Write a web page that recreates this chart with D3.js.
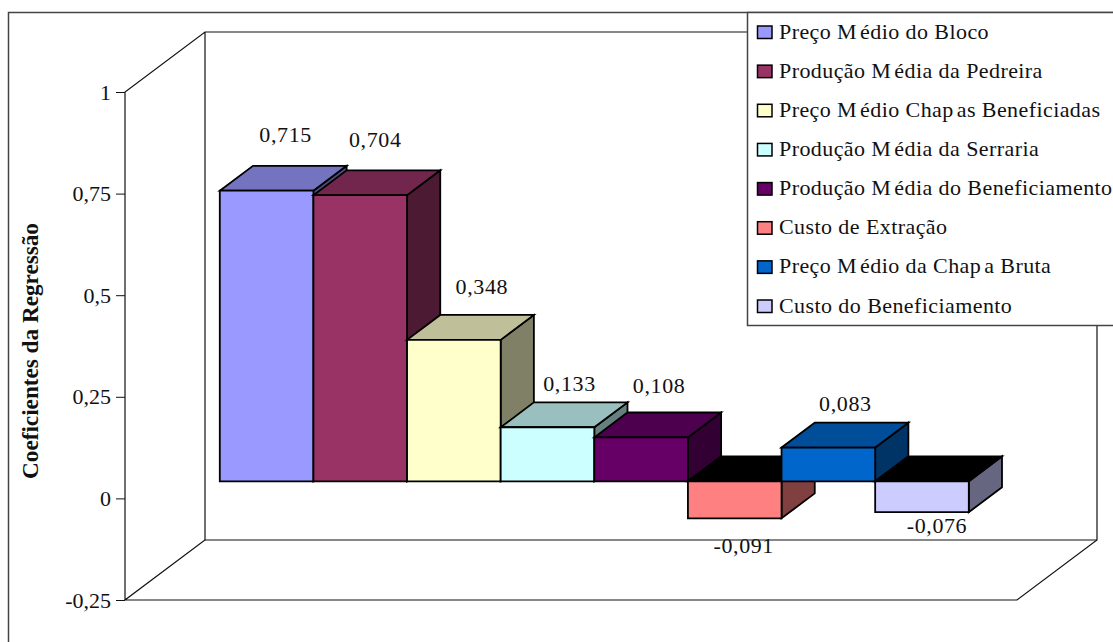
<!DOCTYPE html>
<html>
<head>
<meta charset="utf-8">
<script src="https://cdnjs.cloudflare.com/ajax/libs/d3/7.8.5/d3.min.js"></script>
<style>
html,body{margin:0;padding:0;background:#fff;overflow:hidden}
svg{display:block}
text{font-family:"Liberation Serif","Times New Roman",serif;fill:#111}
</style>
</head>
<body>
<svg id="c" width="1113" height="642"></svg>
<script>
const categories = ["Preço Médio do Bloco","Produção Média da Pedreira","Preço Médio Chapas Beneficiadas","Produção Média da Serraria","Produção Média do Beneficiamento","Custo de Extração","Preço Médio da Chapa Bruta","Custo do Beneficiamento"];
const values = [0.715,0.704,0.348,0.133,0.108,-0.091,0.083,-0.076];
const valueLabels = ["0,715","0,704","0,348","0,133","0,108","-0,091","0,083","-0,076"];
const colors = ["#9999FF","#993366","#FFFFCC","#CCFFFF","#660066","#FF8080","#0066CC","#CCCCFF"];
const tickValues = [-0.25,0,0.25,0.5,0.75,1];
const tickLabels = ["-0,25","0","0,25","0,5","0,75","1"];
const axisTitle = "Coeficientes da Regressão";
const labelDx = [19,15,28,22,18,9,17,15];
const labelDy = [-49,-48,-46,-36,-44,35,-37,21];

const svg = d3.select("#c");
const depthX = 80, depthY = -60;
const y = d3.scaleLinear().domain([-0.25,1]).range([600,92]);
const x = d3.scaleBand().domain(categories).range([197,946]);
const barZ0 = 0.285, barZ1 = 0.70;
const px = (xv,z)=>xv+depthX*z, py=(yv,z)=>yv+depthY*z;
const line = d3.line().curve(d3.curveLinearClosed);
const open = d3.line();

// outer frame
svg.append("rect").attr("x",8.5).attr("y",12.5).attr("width",1120).attr("height",650)
  .attr("fill","#fff").attr("stroke","#444").attr("stroke-width",1.5);

// walls and floor
const xL = 125, xR = 1017, yT = y(1), yB = y(-0.25);
const wall = svg.append("g").attr("fill","none").attr("stroke","#111").attr("stroke-width",1.2);
wall.append("path").attr("d",open([[xL,yB],[xL,yT],[px(xL,1),py(yT,1)],[px(xR,1),py(yT,1)],[px(xR,1),py(yB,1)],[xR,yB],[xL,yB],[px(xL,1),py(yB,1)],[px(xL,1),py(yT,1)]]));
wall.append("path").attr("d",open([[px(xL,1),py(yB,1)],[px(xR,1),py(yB,1)]]));

// y axis
const axis = d3.axisLeft(y).tickValues(tickValues).tickSize(9).tickPadding(5)
  .tickFormat(d=>tickLabels[tickValues.indexOf(d)]);
const ag = svg.append("g").attr("transform",`translate(${xL},0)`).call(axis);
ag.select(".domain").remove();
ag.selectAll("line").attr("stroke","#111").attr("stroke-width",1);
ag.selectAll("text").attr("font-size",22).attr("fill","#111").style("font-family",'"Liberation Serif",serif');

svg.append("text").attr("transform","translate(38,351) rotate(-90)").attr("text-anchor","middle")
  .attr("font-size",23.2).attr("font-weight","bold").text(axisTitle);

// bars
const g = svg.append("g").selectAll("g").data(categories).join("g");
g.each(function(c,i){
  const v = values[i], sel = d3.select(this);
  const x0 = px(x(c),barZ0), x1 = x0 + x.bandwidth();
  const y0 = py(y(0),barZ0), yv = py(y(v),barZ0);
  const dx = depthX*(barZ1-barZ0), dy = depthY*(barZ1-barZ0);
  const hi = Math.min(y0,yv), lo = Math.max(y0,yv);
  const base = d3.color(colors[i]);
  const shade = f=>d3.rgb(base.r*f,base.g*f,base.b*f).formatHex();
  const add = (pts,fill)=>sel.append("path").attr("d",line(pts)).attr("fill",fill)
     .attr("stroke","#000").attr("stroke-width",1.8);
  add([[x1,hi],[x1+dx,hi+dy],[x1+dx,lo+dy],[x1,lo]],shade(0.5));
  add([[x0,hi],[x0+dx,hi+dy],[x1+dx,hi+dy],[x1,hi]],v<0?"#000":shade(0.75));
  add([[x0,hi],[x1,hi],[x1,lo],[x0,lo]],colors[i]);
});

// data labels
svg.append("g").selectAll("text").data(categories).join("text")
  .attr("x",(c,i)=>px(x(c),barZ0)+x.bandwidth()/2+labelDx[i])
  .attr("y",(c,i)=>py(y(values[i]),barZ0)+labelDy[i])
  .attr("text-anchor","middle").attr("font-size",22).attr("letter-spacing",0.6)
  .text((c,i)=>valueLabels[i]);

// legend
const lx = 747.5, ly = 12.5;
const lg = svg.append("g");
lg.append("rect").attr("x",lx).attr("y",ly).attr("width",400).attr("height",313)
  .attr("fill","#fff").attr("stroke","#444").attr("stroke-width",1.5);
const row = d3.scalePoint().domain(categories).range([32,306]);
const items = lg.selectAll("g").data(categories).join("g").attr("transform",c=>`translate(0,${row(c)})`);
items.append("rect").attr("x",757.5).attr("y",-6).attr("width",14.5).attr("height",12.5)
  .attr("fill",(c,i)=>colors[i]).attr("stroke","#000").attr("stroke-width",1.5);
const lt = items.append("text").attr("x",779).attr("y",6.5).attr("font-size",22).attr("letter-spacing",0.42);
lt.each(function(c){
  const t = d3.select(this);
  c.split(/(?<=\bM)(?=é)|(?<=Chap)(?=a)/).forEach((s,k)=>{
    t.append("tspan").attr("dx",k?3:0).text(s);
  });
});
</script>
</body>
</html>
